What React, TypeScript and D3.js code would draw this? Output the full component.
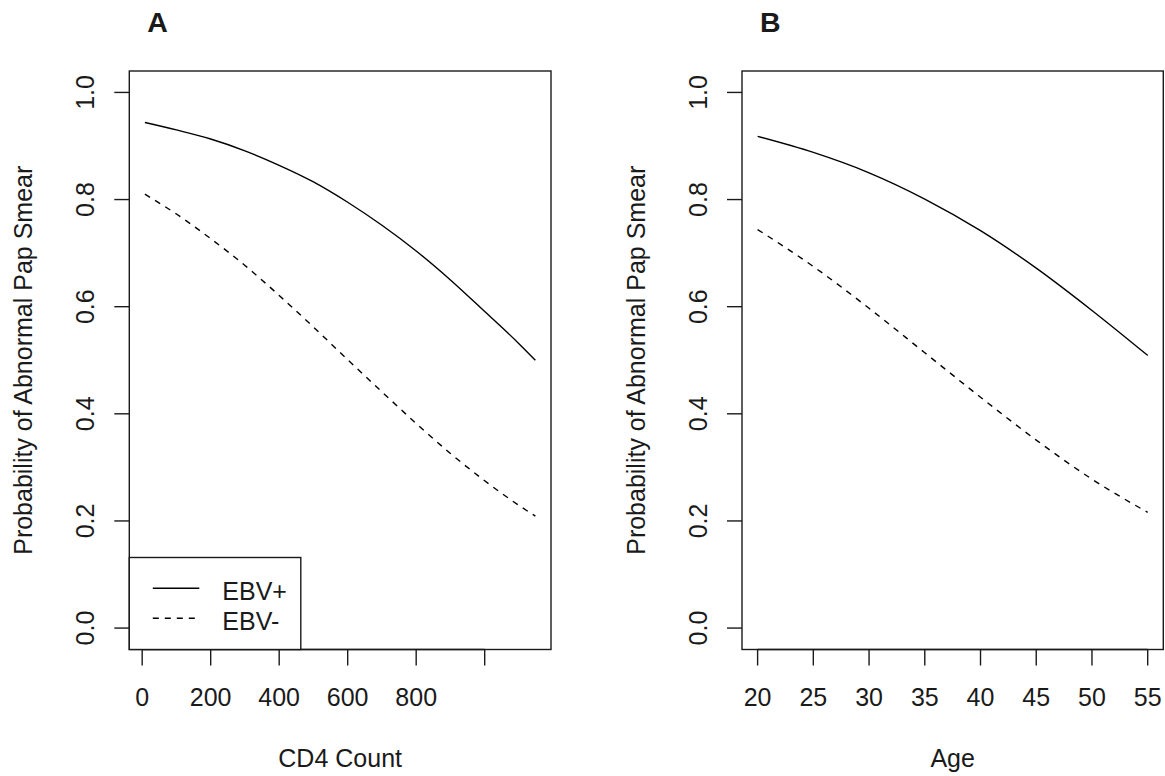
import * as d3 from 'd3';

// panel A: probability vs CD4 count
const cd4Values = [8, 100, 200, 300, 400, 500, 600, 700, 800, 900, 1000, 1100, 1148];
const cd4EbvPos = [0.944, 0.930, 0.913, 0.891, 0.864, 0.833, 0.795, 0.752, 0.704, 0.650, 0.591, 0.531, 0.500];
const cd4EbvNeg = [0.810, 0.773, 0.727, 0.677, 0.621, 0.562, 0.501, 0.441, 0.382, 0.326, 0.275, 0.229, 0.209];
const cd4Ticks = [0, 200, 400, 600, 800, 1000];
const cd4TickLabels = ['0', '200', '400', '600', '800', ''];

// panel B: probability vs age
const ageValues = [20, 25, 30, 35, 40, 45, 50, 55];
const ageEbvPos = [0.918, 0.888, 0.850, 0.801, 0.742, 0.672, 0.593, 0.509];
const ageEbvNeg = [0.744, 0.675, 0.597, 0.514, 0.431, 0.351, 0.278, 0.216];
const ageTicks = [20, 25, 30, 35, 40, 45, 50, 55];
const ageTickLabels = ['20', '25', '30', '35', '40', '45', '50', '55'];

const probTicks = [0, 0.2, 0.4, 0.6, 0.8, 1.0];
const probTickLabels = ['0.0', '0.2', '0.4', '0.6', '0.8', '1.0'];

const seriesNames = ['EBV+', 'EBV-'];

const FONT = '"Liberation Sans", Arial, Helvetica, sans-serif';
const INK = '#1a1a1a';

// R-style 4% padding on the data range
const rPad = (lo: number, hi: number) => {
  const d = (hi - lo) * 0.04;
  return [lo - d, hi + d];
};

type PanelProps = {
  letter: string;
  left: number;
  right: number;
  xs: number[];
  pos: number[];
  neg: number[];
  xTicks: number[];
  xTickLabels: string[];
  xTitle: string;
  showLegend?: boolean;
};

const top = 71;
const bottom = 649.5;

const Panel = ({ letter, left, right, xs, pos, neg, xTicks, xTickLabels, xTitle, showLegend }: PanelProps) => {
  const x = d3.scaleLinear().domain(rPad(d3.min(xs)!, d3.max(xs)!)).range([left, right]);
  const y = d3.scaleLinear().domain(rPad(0, 1)).range([bottom, top]);

  const line = d3.line<number>()
    .x((_, i) => x(xs[i]))
    .y((d) => y(d))
    .curve(d3.curveMonotoneX);

  const midX = (left + right) / 2;
  const midY = (top + bottom) / 2;

  return (
    <g fontFamily={FONT} fill={INK}>
      <text x={left + 18} y={32} fontSize={28.5} fontWeight="bold">{letter}</text>

      <rect x={left} y={top} width={right - left} height={bottom - top}
        fill="none" stroke={INK} strokeWidth={1.4} />

      <path d={line(pos) ?? ''} fill="none" stroke="#000" strokeWidth={1.4} />
      <path d={line(neg) ?? ''} fill="none" stroke="#000" strokeWidth={1.4} strokeDasharray="6,6" />

      {/* x axis */}
      <line x1={x(xTicks[0])} x2={x(xTicks[xTicks.length - 1])} y1={bottom} y2={bottom} stroke={INK} strokeWidth={1.4} />
      {xTicks.map((t, i) => (
        <g key={t}>
          <line x1={x(t)} x2={x(t)} y1={bottom} y2={bottom + 16} stroke={INK} strokeWidth={1.4} />
          <text x={x(t)} y={705.5} fontSize={25} textAnchor="middle">{xTickLabels[i]}</text>
        </g>
      ))}
      <text x={midX} y={767} fontSize={25} textAnchor="middle">{xTitle}</text>

      {/* y axis */}
      {probTicks.map((t, i) => (
        <g key={t}>
          <line x1={left - 15} x2={left} y1={y(t)} y2={y(t)} stroke={INK} strokeWidth={1.4} />
          <text transform={`translate(${left - 35},${y(t)}) rotate(-90)`} fontSize={25} textAnchor="middle">
            {probTickLabels[i]}
          </text>
        </g>
      ))}
      <text transform={`translate(${left - 97},${midY}) rotate(-90)`} fontSize={25} textAnchor="middle">
        Probability of Abnormal Pap Smear
      </text>

      {showLegend && (
        <g>
          <rect x={left} y={557.5} width={171.5} height={bottom - 557.5} fill="#fff" stroke={INK} strokeWidth={1.4} />
          {seriesNames.map((name, i) => (
            <g key={name}>
              <line x1={left + 23.5} x2={left + 70} y1={588.3 + i * 30} y2={588.3 + i * 30}
                stroke="#000" strokeWidth={1.4} strokeDasharray={i === 0 ? undefined : '6,6'} />
              <text x={left + 93} y={600 + i * 30} fontSize={25}>{name}</text>
            </g>
          ))}
        </g>
      )}
    </g>
  );
};

export default function App() {
  return (
    <svg width={1165} height={776} style={{ position: 'absolute', left: 0, top: 0, background: '#fff' }}>
      <rect width={1165} height={776} fill="#fff" />
      <Panel letter="A" left={129.3} right={551} xs={cd4Values} pos={cd4EbvPos} neg={cd4EbvNeg}
        xTicks={cd4Ticks} xTickLabels={cd4TickLabels} xTitle="CD4 Count" showLegend />
      <Panel letter="B" left={742} right={1163.3} xs={ageValues} pos={ageEbvPos} neg={ageEbvNeg}
        xTicks={ageTicks} xTickLabels={ageTickLabels} xTitle="Age" />
    </svg>
  );
}
